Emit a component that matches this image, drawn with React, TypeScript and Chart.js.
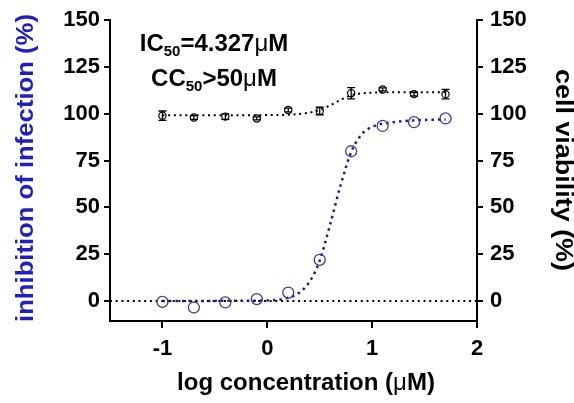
import { useEffect, useRef } from "react";
import { Chart, registerables } from "chart.js";

Chart.register(...registerables);

// ---- data ----
const logConc = [-1, -0.7, -0.4, -0.1, 0.2, 0.5, 0.8, 1.1, 1.4, 1.7];
const inhibition = [-0.5, -3.5, -0.8, 1, 4.5, 22, 80, 93.5, 95.5, 97.5];
const viability = [99, 98, 98.5, 97.5, 102, 101.5, 111, 113, 110.5, 110.5];
const viabilityErr = [2.5, 1, 1.5, 0.8, 1, 2, 3, 0.8, 1, 2.5];

// fitted curves (samples)
const curveX = [-1, -0.5, 0, 0.2, 0.3, 0.4, 0.5, 0.6, 0.7, 0.8, 0.9, 1.0, 1.2, 1.4, 1.7];
const inhibitionFit = [0, 0.05, 0.3, 1.7, 4.2, 10, 21.6, 41, 62, 79.5, 89, 93, 95.5, 96.5, 97];
const viabilityFit = [99.2, 99.2, 99.3, 99.5, 99.9, 100.6, 102, 104.5, 107.5, 109.8, 110.9, 111.3, 111.5, 111.5, 111.5];

const baselineX = [-1.5, 2];
const baselineY = [0, 0];

const xTicks = [-1, 0, 1, 2];
const yTicks = [0, 25, 50, 75, 100, 125, 150];

const titleLeft = "inhibition of infection (%)";
const titleRight = "cell viability (%)";

const FAMILY = "'Liberation Sans', Arial, Helvetica, sans-serif";
const NAVY = "#1c1c86";
const CIRCLE_BLUE = "#3a3aa6";
const LABEL_BLUE = "#1f1fc2";

function pts(xs: number[], ys: number[]) {
  return xs.map((x, i) => ({ x, y: ys[i] }));
}

type Run = { t: string; font: string; dy?: number };

function drawRuns(ctx: CanvasRenderingContext2D, runs: Run[], cx: number, y: number) {
  let total = 0;
  const widths = runs.map((r) => {
    ctx.font = r.font;
    const w = ctx.measureText(r.t).width;
    total += w;
    return w;
  });
  let x = cx - total / 2;
  ctx.textAlign = "left";
  ctx.textBaseline = "alphabetic";
  runs.forEach((r, i) => {
    ctx.font = r.font;
    ctx.fillText(r.t, x, y + (r.dy || 0));
    x += widths[i];
  });
}

function drawRotated(
  ctx: CanvasRenderingContext2D,
  text: string,
  font: string,
  color: string,
  bx: number,
  cy: number,
  angle: number,
  targetLen: number
) {
  ctx.save();
  ctx.translate(bx, cy);
  ctx.rotate(angle);
  ctx.font = font;
  const w = ctx.measureText(text).width;
  ctx.scale(targetLen / w, 1);
  ctx.fillStyle = color;
  ctx.textAlign = "center";
  ctx.textBaseline = "alphabetic";
  ctx.fillText(text, 0, 0);
  ctx.restore();
}

const errorBarPlugin = {
  id: "errorBars",
  beforeDatasetsDraw(chart: any) {
    const ctx = chart.ctx as CanvasRenderingContext2D;
    const xs = chart.scales.x;
    const ys = chart.scales.y2;
    ctx.save();
    ctx.strokeStyle = "#000";
    ctx.lineWidth = 1.3;
    logConc.forEach((xv, i) => {
      const e = viabilityErr[i];
      const px = xs.getPixelForValue(xv);
      const top = ys.getPixelForValue(viability[i] + e);
      const bot = ys.getPixelForValue(viability[i] - e);
      ctx.beginPath();
      ctx.moveTo(px, top);
      ctx.lineTo(px, bot);
      ctx.moveTo(px - 4, top);
      ctx.lineTo(px + 4, top);
      ctx.moveTo(px - 4, bot);
      ctx.lineTo(px + 4, bot);
      ctx.stroke();
    });
    ctx.restore();
  },
};

const textPlugin = {
  id: "texts",
  afterDraw(chart: any) {
    const ctx = chart.ctx as CanvasRenderingContext2D;
    ctx.save();
    ctx.fillStyle = "#000";
    const big = `bold 24px ${FAMILY}`;
    const sub = `bold 15px ${FAMILY}`;
    const mu = `24px ${FAMILY}`;
    drawRuns(
      ctx,
      [
        { t: "IC", font: big },
        { t: "50", font: sub, dy: 5 },
        { t: "=4.327", font: big },
        { t: "μ", font: mu },
        { t: "M", font: big },
      ],
      214,
      51
    );
    drawRuns(
      ctx,
      [
        { t: "CC", font: big },
        { t: "50", font: sub, dy: 5 },
        { t: ">50", font: big },
        { t: "μ", font: mu },
        { t: "M", font: big },
      ],
      214,
      86
    );
    // x title
    drawRuns(
      ctx,
      [
        { t: "log concentration (", font: big },
        { t: "μ", font: mu },
        { t: "M)", font: big },
      ],
      306,
      390
    );
    ctx.restore();
    drawRotated(ctx, titleLeft, `bold 23px ${FAMILY}`, LABEL_BLUE, 33, 168, -Math.PI / 2, 308);
    drawRotated(ctx, titleRight, `bold 23px ${FAMILY}`, "#000", 556, 170, Math.PI / 2, 202);
  },
};

export default function App() {
  const ref = useRef<HTMLCanvasElement>(null);
  useEffect(() => {
    const canvas = ref.current!;
    const tickFont = { family: FAMILY, size: 22, weight: "bold" as const };
    const axisGrid = {
      display: true,
      drawOnChartArea: false,
      drawTicks: true,
      tickLength: 7,
      color: "#000",
      lineWidth: 2,
    };
    const chart = new Chart(canvas, {
      type: "line",
      data: {
        datasets: [
          {
            label: "inhibition points",
            data: pts(logConc, inhibition),
            showLine: false,
            pointRadius: 5.5,
            pointBorderWidth: 1.3,
            pointBorderColor: CIRCLE_BLUE,
            pointBackgroundColor: "rgba(0,0,0,0)",
            yAxisID: "y",
          },
          {
            label: "viability points",
            data: pts(logConc, viability),
            showLine: false,
            pointRadius: 3.6,
            pointBorderWidth: 1.2,
            pointBorderColor: "#000",
            pointBackgroundColor: "rgba(0,0,0,0)",
            yAxisID: "y2",
          },
          {
            label: "inhibition fit",
            data: pts(curveX, inhibitionFit),
            borderColor: NAVY,
            borderWidth: 2.5,
            borderDash: [2.5, 4],
            pointRadius: 0,
            cubicInterpolationMode: "monotone",
            yAxisID: "y",
          },
          {
            label: "viability fit",
            data: pts(curveX, viabilityFit),
            borderColor: "#000",
            borderWidth: 2,
            borderDash: [2, 3.7],
            pointRadius: 0,
            cubicInterpolationMode: "monotone",
            yAxisID: "y2",
          },
          {
            label: "baseline",
            data: pts(baselineX, baselineY),
            borderColor: "#000",
            borderWidth: 2,
            borderDash: [2, 3.7],
            pointRadius: 0,
            yAxisID: "y",
          },
        ],
      },
      options: {
        animation: false,
        responsive: false,
        layout: { padding: { top: 20, left: 0, right: 0, bottom: 0 } },
        plugins: {
          legend: { display: false },
          tooltip: { enabled: false },
          title: { display: false },
        },
        scales: {
          x: {
            type: "linear",
            min: -1.5,
            max: 2,
            afterBuildTicks: (s: any) => {
              s.ticks = xTicks.map((v) => ({ value: v }));
            },
            afterFit: (s: any) => {
              s.height = 82;
            },
            grid: axisGrid,
            border: { display: true, color: "#000", width: 2 },
            ticks: { font: tickFont, color: "#000", padding: 8, maxRotation: 0 },
          },
          y: {
            type: "linear",
            position: "left",
            min: -10.7,
            max: 150,
            afterBuildTicks: (s: any) => {
              s.ticks = yTicks.map((v) => ({ value: v }));
            },
            afterFit: (s: any) => {
              s.width = 110;
            },
            grid: { ...axisGrid, tickLength: 6 },
            border: { display: true, color: "#000", width: 2 },
            ticks: { font: tickFont, color: "#000", padding: 4 },
          },
          y2: {
            type: "linear",
            position: "right",
            min: -10.7,
            max: 150,
            afterBuildTicks: (s: any) => {
              s.ticks = yTicks.map((v) => ({ value: v }));
            },
            afterFit: (s: any) => {
              s.width = 97;
            },
            grid: { ...axisGrid, tickLength: 6 },
            border: { display: true, color: "#000", width: 2 },
            ticks: { font: tickFont, color: "#000", padding: 7 },
          },
        },
      },
      plugins: [errorBarPlugin, textPlugin],
    } as any);
    return () => chart.destroy();
  }, []);
  return (
    <div style={{ position: "fixed", left: 0, top: 0, width: 574, height: 403, background: "#fff" }}>
      <canvas ref={ref} width={574} height={403} style={{ display: "block" }} />
    </div>
  );
}
